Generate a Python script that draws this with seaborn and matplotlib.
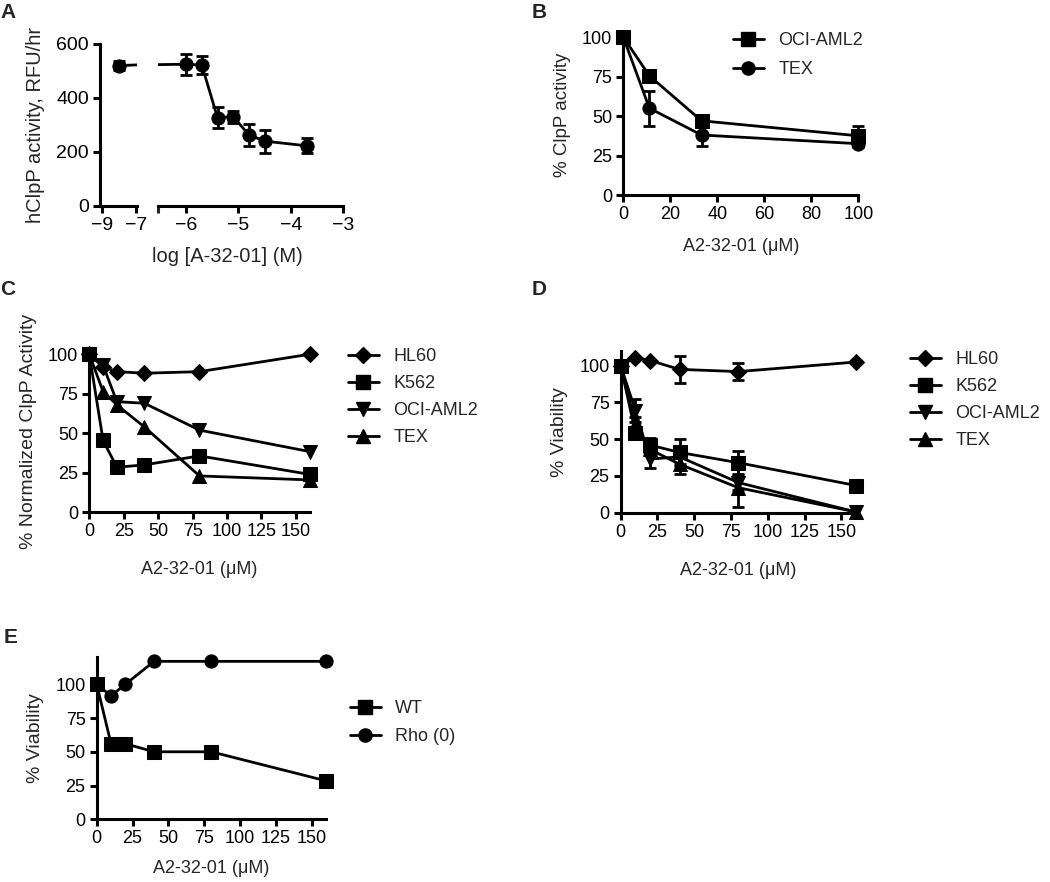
import pandas as pd
import matplotlib
matplotlib.use('Agg')
import matplotlib.pyplot as plt
from matplotlib.lines import Line2D
import seaborn as sns

# Panel A: hClpP activity vs log concentration
a_logx = [-8.0, -6.0, -5.70, -5.40, -5.10, -4.80, -4.49, -3.70]
a_act = [520, 525, 522, 327, 331, 263, 240, 223]
a_err = [18, 38, 33, 38, 22, 40, 42, 28]

# Panel B: % ClpP activity
b_dose = [0, 11.1, 33.3, 100]
b_oci = [100, 75.5, 47, 37.5]
b_oci_err = [0, 4, 3, 6.5]
b_tex = [100, 55, 38, 32.5]
b_tex_err = [0, 11, 7, 2]

# Panels C-E share the dose series
dose = [0, 10, 20, 40, 80, 160]

# Panel C: normalized ClpP activity
c_hl60 = [100, 92, 89, 88, 89, 100]
c_k562 = [100, 45.5, 28.5, 30, 35.7, 24]
c_oci = [100, 93, 70, 69, 52, 38.4]
c_tex = [100, 76.4, 68, 54, 23, 20.5]

# Panel D: viability
d_hl60 = [100, 105.5, 103.5, 97.5, 96, 102.5]
d_hl60_err = [0, 0, 0, 9, 6, 0]
d_k562 = [100, 54.5, 46, 41, 34, 18.5]
d_k562_err = [0, 3, 5, 9, 8, 2]
d_oci = [100, 69.5, 36.5, 38, 20.5, 0.5]
d_oci_err = [0, 8, 6, 5, 5, 0]
d_tex = [100, 60, 43, 33, 17, 0.5]
d_tex_err = [0, 5, 4, 7, 13, 0]

# Panel E: viability WT vs Rho(0)
e_wt = [100, 56, 56, 50, 50, 28.5]
e_rho = [100, 91.5, 100, 117, 117, 117]

sns.set_style('ticks')
plt.rcParams['font.family'] = ['Liberation Sans', 'DejaVu Sans']
plt.rcParams['axes.linewidth'] = 2.2
plt.rcParams['xtick.major.width'] = 2.2
plt.rcParams['ytick.major.width'] = 2.2
plt.rcParams['xtick.minor.width'] = 2.2
plt.rcParams['xtick.major.size'] = 5
plt.rcParams['ytick.major.size'] = 5
plt.rcParams['xtick.minor.size'] = 5
plt.rcParams['axes.edgecolor'] = 'black'

W, H = 1050, 882
fig = plt.figure(figsize=(W / 100, H / 100), dpi=100)

MS = 9.5     # marker size
MS_D = 8     # diamond marker size


def add_box(left, top, right, bottom, **kw):
    return fig.add_axes([left / W, 1 - bottom / H, (right - left) / W, (bottom - top) / H], **kw)


def draw(ax, x, groups, markers, errs=None, clip=False):
    rows = []
    for name, ys in groups.items():
        for xi, yi in zip(x, ys):
            rows.append({'x': xi, 'y': yi, 'line': name})
    df = pd.DataFrame(rows)
    sns.lineplot(data=df, x='x', y='y', style='line', markers=markers, dashes=False,
                 color='black', linewidth=2, markersize=MS, markeredgecolor='black',
                 errorbar=None, legend=False, ax=ax, zorder=3)
    for ln in ax.lines:
        ln.set_clip_on(clip)
        if ln.get_marker() == 'D':
            ln.set_markersize(MS_D)
    if errs:
        for name, e in errs.items():
            ys = groups[name]
            pts = [(xi, yi, ei) for xi, yi, ei in zip(x, ys, e) if ei > 0]
            if not pts:
                continue
            px, py, pe = zip(*pts)
            cont = ax.errorbar(px, py, yerr=pe, fmt='none', ecolor='black', elinewidth=2,
                               capsize=4.5, capthick=2, zorder=2.9)
            for art in cont.get_children():
                art.set_clip_on(clip)
    ax.set_xlabel('')
    ax.set_ylabel('')


def style(ax, fs=13):
    sns.despine(ax=ax)
    ax.tick_params(labelsize=fs, direction='out', pad=3, colors='black')


def legend(ax, names, markers, hx, row1, fs=13, spacing=0.56):
    handles = [Line2D([], [], color='black', lw=2, marker=m, markersize=MS_D if m == 'D' else MS,
                      markeredgecolor='black') for m in markers]
    ax.legend(handles, names, loc='upper left', bbox_to_anchor=(hx / W, 1 - (row1 - 11) / H),
              bbox_transform=fig.transFigure, frameon=False, borderpad=0, borderaxespad=0,
              handlelength=1.7, handletextpad=0.8, labelspacing=spacing, fontsize=fs)


# ---- Panel A (broken x axis) ----
axA1 = add_box(100, 44, 136.7, 206)
axA2 = add_box(158.3, 44, 343.3, 206, sharey=axA1)
for ax in (axA1, axA2):
    draw(ax, a_logx, {'hClpP': a_act}, {'hClpP': 'o'}, {'hClpP': a_err}, clip=True)
    style(ax, 14)
axA1.set_xlim(-9.1, -6.95)
axA1.set_xticks([-9, -7])
axA1.set_ylim(0, 600)
axA1.set_yticks([0, 200, 400, 600])
axA1.set_ylabel('hClpP activity, RFU/hr', fontsize=14.5, labelpad=8)
axA2.set_xlim(-6.53, -3)
axA2.set_xticks([-6, -5, -4, -3])
axA2.set_xticks([-6.53], minor=True)
axA2.spines['left'].set_visible(False)
axA2.tick_params(axis='y', left=False, labelleft=False)
axA2.tick_params(axis='x', which='minor', direction='out', length=5, width=2.2)
fig.text(227 / W, 1 - 257 / H, 'log [A-32-01] (M)', ha='center', va='center', fontsize=14.5)

# ---- Panel B ----
axB = add_box(623.3, 34, 858.3, 195)
draw(axB, b_dose, {'OCI-AML2': b_oci, 'TEX': b_tex}, {'OCI-AML2': 's', 'TEX': 'o'},
     {'OCI-AML2': b_oci_err, 'TEX': b_tex_err})
style(axB)
axB.set_xlim(0, 100)
axB.set_ylim(0, 102)
axB.set_xticks([0, 20, 40, 60, 80, 100])
axB.set_yticks([0, 25, 50, 75, 100])
axB.set_ylabel('% ClpP activity', fontsize=13.5, labelpad=8)
axB.set_xlabel('A2-32-01 (\u03bcM)', fontsize=13, labelpad=11)
legend(axB, ['OCI-AML2', 'TEX'], ['s', 'o'], 733, 43, spacing=0.66)

# ---- Panel C ----
names4 = ['HL60', 'K562', 'OCI-AML2', 'TEX']
marks4 = ['D', 's', 'v', '^']
axC = add_box(89.3, 351.1, 309.7, 512.3)
draw(axC, dose, dict(zip(names4, [c_hl60, c_k562, c_oci, c_tex])), dict(zip(names4, marks4)))
style(axC)
axC.set_xlim(0, 160)
axC.set_ylim(0, 102)
axC.set_xticks([0, 25, 50, 75, 100, 125, 150])
axC.set_yticks([0, 25, 50, 75, 100])
axC.set_ylabel('% Normalized ClpP Activity', fontsize=14, labelpad=8)
axC.set_xlabel('A2-32-01 (\u03bcM)', fontsize=13, labelpad=15)
legend(axC, names4, marks4, 348, 359)

# ---- Panel D ----
axD = add_box(620.7, 351, 856, 512.7)
draw(axD, dose, dict(zip(names4, [d_hl60, d_k562, d_oci, d_tex])), dict(zip(names4, marks4)),
     dict(zip(names4, [d_hl60_err, d_k562_err, d_oci_err, d_tex_err])))
style(axD)
axD.set_xlim(0, 160)
axD.set_ylim(0, 110)
axD.set_xticks([0, 25, 50, 75, 100, 125, 150])
axD.set_yticks([0, 25, 50, 75, 100])
axD.set_ylabel('% Viability', fontsize=14, labelpad=8)
axD.set_xlabel('A2-32-01 (\u03bcM)', fontsize=13, labelpad=15)
legend(axD, names4, marks4, 910, 362)

# ---- Panel E ----
axE = add_box(96.7, 657.3, 326, 819.3)
draw(axE, dose, {'WT': e_wt, 'Rho (0)': e_rho}, {'WT': 's', 'Rho (0)': 'o'})
style(axE)
axE.set_xlim(0, 160)
axE.set_ylim(0, 120)
axE.set_xticks([0, 25, 50, 75, 100, 125, 150])
axE.set_yticks([0, 25, 50, 75, 100])
axE.set_ylabel('% Viability', fontsize=14, labelpad=8)
axE.set_xlabel('A2-32-01 (\u03bcM)', fontsize=13, labelpad=9)
legend(axE, ['WT', 'Rho (0)'], ['s', 'o'], 350, 711, spacing=0.62)

# panel letters
for lab, x, y in [('A', 0, 3), ('B', 532, 3), ('C', 0, 280), ('D', 532, 280), ('E', 4, 628)]:
    fig.text(x / W, 1 - y / H, lab, ha='left', va='top', fontsize=15, fontweight='bold')

fig.savefig('out.png', dpi=100)
